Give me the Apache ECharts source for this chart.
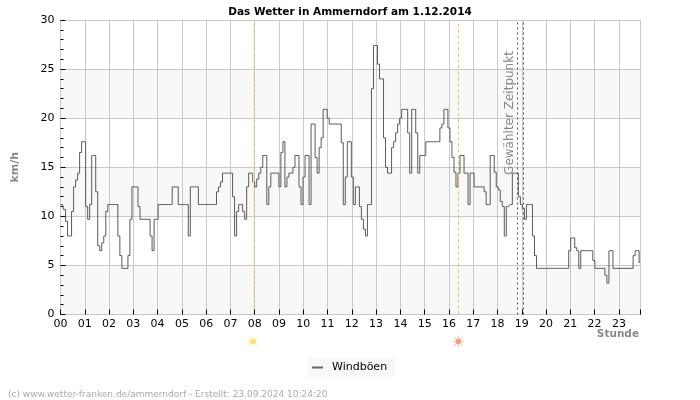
<!DOCTYPE html>
<html>
<head>
<meta charset="utf-8">
<style>html,body{margin:0;padding:0;background:#fff}#c{width:700px;height:400px}</style>
<script src="https://cdn.jsdelivr.net/npm/echarts@6/dist/echarts.min.js"></script>
</head>
<body>
<div id="c"></div>
<script>
const titleText = 'Das Wetter in Ammerndorf am 1.12.2014';
const footerText = '(c) www.wetter-franken.de/ammerndorf - Erstellt: 23.09.2024 10:24:20';
const seriesName = 'Windböen';
const selectedLabel = 'Gewählter Zeitpunkt';
const xAxisUnit = 'Stunde';
const hourLabels = ['00','01','02','03','04','05','06','07','08','09','10','11','12','13','14','15','16','17','18','19','20','21','22','23'];
const lastHour = 23.89;
const sampleStepHours = 0.0829;
// gust values in km/h, one row per hour, one value per sample
const windGusts = [
  11.2,11.2,10.7,9.5,8,8,10.5,13,13.7,14.4,16.5,17.6,
  17.6,11,9.7,11.2,16.2,16.2,12.5,7,6.5,7.3,8,10.5,
  11.2,11.2,11.2,11.2,11.2,8,6,4.7,4.7,4.7,6,9.7,
  13,13,13,11,9.7,9.7,9.7,9.7,9.7,8,6.5,9.7,
  9.7,11.2,11.2,11.2,11.2,11.2,11.2,11.2,13,13,13,11.2,
  11.2,11.2,11.2,11.2,8,13,13,13,13,11.2,11.2,11.2,
  11.2,11.2,11.2,11.2,11.2,11.2,12.5,13,13.5,14.4,14.4,14.4,
  14.4,14.4,12,8,10.5,11.2,11.2,10.5,9.7,13,14.4,14.4,
  13.5,13,13.8,14.4,15,16.2,16.2,11.2,13,14.4,14.4,14.4,
  14.4,13,16.5,17.6,13,14,14.4,14.4,15,16.2,16.2,13,
  11.2,14,16.2,16.2,11.2,19.4,19.4,16,14.4,17,18,20.9,
  20.9,20,19.4,19.4,19.4,19.4,19.4,19.4,17.5,11.2,14,17.6,
  17.6,14,11.2,13,13,11,9.7,8.7,8,11.2,11.2,23,
  27.4,27.4,25.5,24,24,18,15,14.4,14.4,17,17.6,18.5,
  19.4,20,20.9,20.9,20.9,18.5,14.4,20.9,20.9,18.5,14.4,16.2,
  16.2,16.2,17.6,17.6,17.6,17.6,17.6,17.6,17.6,19,19.4,20.9,
  20.9,19,17.6,16,14.5,13,14.4,16.2,16.2,14.4,14.4,11.2,
  14.4,14.4,13,13,13,13,13,12.5,11.2,11.2,16.2,16.2,
  14.5,13,12.7,11.5,11,8,11,11.2,11.2,14.4,14.4,14.4,
  12,11.2,10.8,9.7,11.2,11.2,11.2,8,6,4.7,4.7,4.7,
  4.7,4.7,4.7,4.7,4.7,4.7,4.7,4.7,4.7,4.7,4.7,4.7,
  4.7,6.5,7.8,7.8,6.8,6.5,4.7,6.5,6.5,6.5,6.5,6.5,
  6.5,5.5,4.7,4.7,4.7,4.7,4.7,4,3.2,6.5,6.5,4.7,
  4.7,4.7,4.7,4.7,4.7,4.7,4.7,4.7,4.7,6,6.5,6.5,
  5.3
];
const sunriseHour = 7.93;
const sunsetHour = 16.39;
const selectedStartHour = 18.82;
const selectedEndHour = 19.06;

const font = 'DejaVu Sans';
const sunPath = 'path://M10 5a5 5 0 1 0 0.01 0z M9.5 0h1v4h-1z M9.5 16h1v4h-1z M0 9.5h4v1h-4z M16 9.5h4v1h-4z M2.7 3.3l0.6-0.6 2.8 2.8-0.6 0.6z M13.9 14.5l0.6-0.6 2.8 2.8-0.6 0.6z M2.7 16.7l2.8-2.8 0.6 0.6-2.8 2.8z M13.9 5.5l2.8-2.8 0.6 0.6-2.8 2.8z';

const points = windGusts.map((v, i) => [Math.min(i * sampleStepHours, lastHour), v]);
const chart = echarts.init(document.getElementById('c'), null, {renderer: 'canvas'});
const vLine = (x, color, type) => ({xAxis: x, lineStyle: {color, type, width: 1}});
chart.setOption({
  animation: false,
  backgroundColor: '#fff',
  textStyle: {fontFamily: font},
  title: [
    {text: titleText, left: 345, textAlign: 'center', top: 2, textStyle: {fontFamily: font, fontSize: 10.5, fontWeight: 'bold', color: '#000'}},
    {text: footerText, left: 3, top: 385, textStyle: {fontFamily: font, fontSize: 9, fontWeight: 'normal', color: '#aaa'}}
  ],
  grid: {left: 60.5, right: 59.5, top: 20, bottom: 85.5, outerBoundsMode: 'none'},
  legend: {
    left: 308, top: 358, padding: [4, 8, 4, 4], backgroundColor: '#f8f8f8',
    itemWidth: 11, itemHeight: 2, icon: 'rect', itemGap: 0,
    textStyle: {fontFamily: font, fontSize: 11, color: '#000', padding: [0, 0, 0, 4]},
    data: [seriesName]
  },
  xAxis: {
    type: 'value', min: 0, max: lastHour, interval: 1,
    axisLine: {show: true, lineStyle: {color: '#c8c8c8'}},
    axisTick: {show: true, inside: true, length: 5, lineStyle: {color: '#000'}},
    axisLabel: {show: true, margin: 4, fontSize: 11, color: '#000', formatter: v => hourLabels[v] === undefined ? '' : hourLabels[v]},
    splitLine: {show: true, lineStyle: {color: '#c8c8c8'}}
  },
  yAxis: {
    type: 'value', min: 0, max: 30, interval: 5,
    name: 'km/h', nameLocation: 'middle', nameGap: 40,
    nameTextStyle: {fontFamily: font, fontSize: 11, fontWeight: 'bold', color: '#888'},
    axisLine: {show: true, lineStyle: {color: '#c8c8c8'}},
    axisTick: {show: true, inside: true, length: 5, lineStyle: {color: '#000'}},
    minorTick: {show: true, splitNumber: 5, length: 3, lineStyle: {color: '#000'}},
    axisLabel: {margin: 6, fontSize: 11, color: '#000'},
    splitLine: {show: true, lineStyle: {color: '#c8c8c8'}},
    splitArea: {show: true, areaStyle: {color: ['#f8f8f8', '#ffffff']}}
  },
  series: [{
    name: seriesName, type: 'line', step: 'middle', data: points,
    showSymbol: false, symbol: 'none',
    itemStyle: {color: '#666'},
    lineStyle: {color: '#5a5a5a', width: 1},
    markLine: {
      silent: true, symbol: 'none', label: {show: false}, animation: false,
      data: [
        vLine(sunriseHour, '#ffee66', [3, 3]),
        vLine(sunsetHour, '#ffb84d', [3, 3]),
        vLine(selectedStartHour, '#555', [2, 3]),
        vLine(selectedEndHour, '#555', [2, 3])
      ]
    },
    markPoint: {
      silent: true, symbol: sunPath, symbolSize: 12, label: {show: false},
      data: [
        {coord: [sunriseHour, 0], symbolOffset: [0, 27], itemStyle: {color: '#ffe27a'}},
        {coord: [sunsetHour, 0], symbolOffset: [0, 27], itemStyle: {color: '#ff9c80'}}
      ]
    }
  }],
  graphic: [{
    type: 'text', x: 510, y: 113, rotation: Math.PI / 2, z: 20,
    style: {text: selectedLabel, fontFamily: font, fontSize: 12, fill: '#888', align: 'center', verticalAlign: 'middle'}
  }, {
    type: 'text', x: 639, y: 334, z: 20,
    style: {text: xAxisUnit, fontFamily: font, fontSize: 10.5, fontWeight: 'bold', fill: '#888', align: 'right', verticalAlign: 'middle'}
  }]
});
</script>
</body>
</html>
